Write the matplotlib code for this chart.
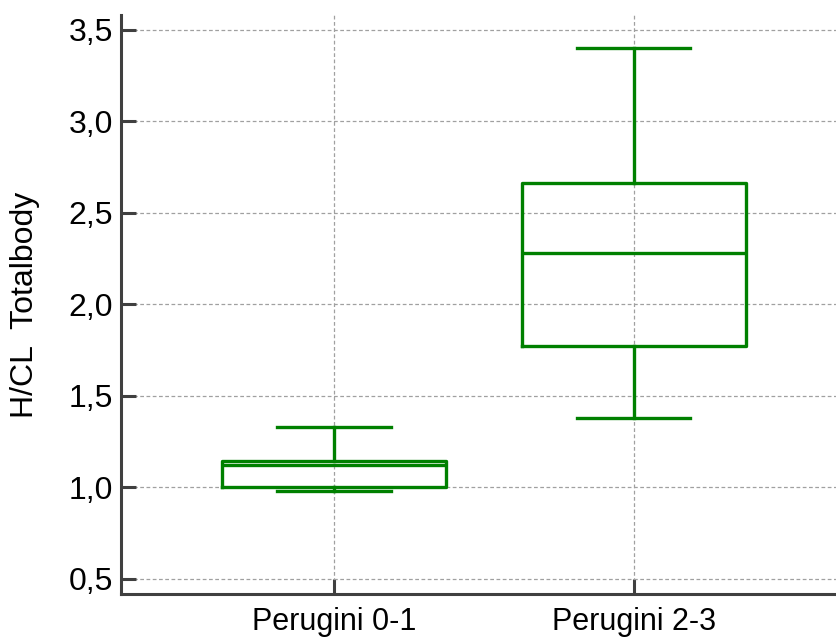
import matplotlib.pyplot as plt

groups = ["Perugini 0-1", "Perugini 2-3"]
whislo = [0.98, 1.38]
q1 = [1.00, 1.775]
med = [1.125, 2.283]
q3 = [1.145, 2.665]
whishi = [1.333, 3.40]
yticks = [0.5, 1.0, 1.5, 2.0, 2.5, 3.0, 3.5]
ytick_labels = ["0,5", "1,0", "1,5", "2,0", "2,5", "3,0", "3,5"]

plt.rcParams['font.family'] = ['Liberation Sans', 'DejaVu Sans']

fig = plt.figure(figsize=(8.37, 6.37), dpi=100)
ax = fig.add_axes([0.1446, 0.0675, 0.8554, 0.909])

stats = []
for i, g in enumerate(groups):
    stats.append(dict(label=g, whislo=whislo[i], q1=q1[i], med=med[i],
                      q3=q3[i], whishi=whishi[i], fliers=[]))

green = '#008000'
lw = 2.4
ax.bxp(stats, positions=[1, 2], widths=0.745, showfliers=False,
       boxprops=dict(color=green, linewidth=lw),
       medianprops=dict(color=green, linewidth=lw),
       whiskerprops=dict(color=green, linewidth=lw),
       capprops=dict(color=green, linewidth=lw),
       capwidths=0.377)

ax.set_xlim(0.29, 2.677)
ax.set_ylim(0.418, 3.582)
ax.set_yticks(yticks)
ax.set_yticklabels(ytick_labels)
ax.set_xticks([1, 2])
ax.set_xticklabels(groups)

ax.grid(True, color='#a0a0a0', linestyle=(0, (3, 2)), linewidth=0.9)
ax.set_axisbelow(True)

for s in ['top', 'right']:
    ax.spines[s].set_visible(False)
for s in ['left', 'bottom']:
    ax.spines[s].set_color('#404040')
    ax.spines[s].set_linewidth(2.2)

ax.tick_params(direction='in', length=11, width=2.2, color='#404040', pad=6)
ax.tick_params(axis='y', labelsize=23)
ax.tick_params(axis='x', labelsize=22, pad=9)
ax.set_ylabel("H/CL  Totalbody", fontsize=23, labelpad=20)

fig.savefig("out.png", dpi=100)
